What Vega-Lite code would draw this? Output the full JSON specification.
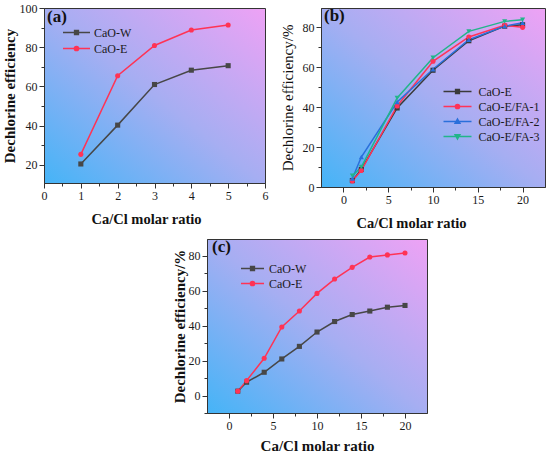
{
  "$schema": "https://vega.github.io/schema/vega-lite/v6.json",
  "padding": {"left": 1, "top": 1, "right": 0, "bottom": 0},
  "spacing": 7,
  "resolve": {"scale": {"color": "independent", "shape": "independent"}, "legend": {"color": "independent", "shape": "independent"}},
  "datasets": {
    "a": [
      {"ratio": 1, "eff": 20.5, "series": "CaO-W"},
      {"ratio": 2, "eff": 40.3, "series": "CaO-W"},
      {"ratio": 3, "eff": 61.0, "series": "CaO-W"},
      {"ratio": 4, "eff": 68.3, "series": "CaO-W"},
      {"ratio": 5, "eff": 70.6, "series": "CaO-W"},
      {"ratio": 1, "eff": 25.4, "series": "CaO-E"},
      {"ratio": 2, "eff": 65.5, "series": "CaO-E"},
      {"ratio": 3, "eff": 80.9, "series": "CaO-E"},
      {"ratio": 4, "eff": 88.8, "series": "CaO-E"},
      {"ratio": 5, "eff": 91.3, "series": "CaO-E"}
    ],
    "b": [
      {"ratio": 1, "eff": 3.2, "series": "CaO-E"},
      {"ratio": 2, "eff": 8.8, "series": "CaO-E"},
      {"ratio": 6, "eff": 39.6, "series": "CaO-E"},
      {"ratio": 10, "eff": 58.5, "series": "CaO-E"},
      {"ratio": 14, "eff": 73.3, "series": "CaO-E"},
      {"ratio": 18, "eff": 80.6, "series": "CaO-E"},
      {"ratio": 20, "eff": 81.3, "series": "CaO-E"},
      {"ratio": 1, "eff": 3.0, "series": "CaO-E/FA-1"},
      {"ratio": 2, "eff": 8.3, "series": "CaO-E/FA-1"},
      {"ratio": 6, "eff": 40.6, "series": "CaO-E/FA-1"},
      {"ratio": 10, "eff": 63.0, "series": "CaO-E/FA-1"},
      {"ratio": 14, "eff": 75.2, "series": "CaO-E/FA-1"},
      {"ratio": 18, "eff": 81.0, "series": "CaO-E/FA-1"},
      {"ratio": 20, "eff": 80.0, "series": "CaO-E/FA-1"},
      {"ratio": 1, "eff": 4.3, "series": "CaO-E/FA-2"},
      {"ratio": 2, "eff": 15.0, "series": "CaO-E/FA-2"},
      {"ratio": 6, "eff": 42.6, "series": "CaO-E/FA-2"},
      {"ratio": 10, "eff": 59.0, "series": "CaO-E/FA-2"},
      {"ratio": 14, "eff": 73.8, "series": "CaO-E/FA-2"},
      {"ratio": 18, "eff": 80.6, "series": "CaO-E/FA-2"},
      {"ratio": 20, "eff": 82.3, "series": "CaO-E/FA-2"},
      {"ratio": 1, "eff": 5.6, "series": "CaO-E/FA-3"},
      {"ratio": 2, "eff": 10.0, "series": "CaO-E/FA-3"},
      {"ratio": 6, "eff": 44.6, "series": "CaO-E/FA-3"},
      {"ratio": 10, "eff": 64.8, "series": "CaO-E/FA-3"},
      {"ratio": 14, "eff": 78.0, "series": "CaO-E/FA-3"},
      {"ratio": 18, "eff": 83.0, "series": "CaO-E/FA-3"},
      {"ratio": 20, "eff": 83.8, "series": "CaO-E/FA-3"}
    ],
    "c": [
      {"ratio": 1, "eff": 2.5, "series": "CaO-W"},
      {"ratio": 2, "eff": 7.6, "series": "CaO-W"},
      {"ratio": 4, "eff": 13.3, "series": "CaO-W"},
      {"ratio": 6, "eff": 20.9, "series": "CaO-W"},
      {"ratio": 8, "eff": 28.1, "series": "CaO-W"},
      {"ratio": 10, "eff": 36.3, "series": "CaO-W"},
      {"ratio": 12, "eff": 42.3, "series": "CaO-W"},
      {"ratio": 14, "eff": 46.3, "series": "CaO-W"},
      {"ratio": 16, "eff": 48.3, "series": "CaO-W"},
      {"ratio": 18, "eff": 50.5, "series": "CaO-W"},
      {"ratio": 20, "eff": 51.5, "series": "CaO-W"},
      {"ratio": 1, "eff": 2.5, "series": "CaO-E"},
      {"ratio": 2, "eff": 8.5, "series": "CaO-E"},
      {"ratio": 4, "eff": 21.3, "series": "CaO-E"},
      {"ratio": 6, "eff": 39.2, "series": "CaO-E"},
      {"ratio": 8, "eff": 48.3, "series": "CaO-E"},
      {"ratio": 10, "eff": 58.4, "series": "CaO-E"},
      {"ratio": 12, "eff": 66.6, "series": "CaO-E"},
      {"ratio": 14, "eff": 73.3, "series": "CaO-E"},
      {"ratio": 16, "eff": 79.2, "series": "CaO-E"},
      {"ratio": 18, "eff": 80.4, "series": "CaO-E"},
      {"ratio": 20, "eff": 81.5, "series": "CaO-E"}
    ]
  },
  "vconcat": [
    {
      "bounds": "flush",
      "spacing": 56,
      "resolve": {"scale": {"color": "independent", "shape": "independent"}, "legend": {"color": "independent", "shape": "independent"}},
      "hconcat": [
        {
          "width": 221,
          "height": 175,
          "data": {"name": "a"},
          "title": {"text": "(a)", "anchor": "start", "frame": "group", "offset": -24, "dx": 3, "fontSize": 17, "fontWeight": "bold", "color": "#111"},
          "layer": [
            {
              "mark": {"type": "line", "strokeWidth": 1.5},
              "encoding": {
                "x": {"field": "ratio", "type": "quantitative", "scale": {"domain": [0, 6], "nice": false, "zero": false},
                  "axis": {"values": [0, 1, 2, 3, 4, 5, 6], "title": "Ca/Cl molar ratio", "titlePadding": 11, "titleX": 102, "titleFontSize": 14.5}},
                "y": {"field": "eff", "type": "quantitative", "scale": {"domain": [10.8, 100], "nice": false, "zero": false},
                  "axis": {"values": [20, 40, 60, 80, 100], "title": "Dechlorine efficiency", "titlePadding": 2}},
                "color": {"field": "series", "type": "nominal", "scale": {"domain": ["CaO-W", "CaO-E"], "range": ["#474747", "#ff3355"]},
                  "legend": {"orient": "none", "legendX": 26.5, "legendY": 18.5, "title": null, "padding": 0, "rowPadding": 4, "symbolSize": 100, "labelOffset": 11.5, "symbolStrokeWidth": 1.5,
                    "encode": {"symbols": {"update": {
                      "shape": {"signal": "datum.value === 'CaO-W' ? 'M-2.7,0H2.7M-0.38,-0.38H0.38V0.38H-0.38Z' : 'M-2.7,0H2.7M-0.42,0A0.42,0.42 0 1,0 0.42,0A0.42,0.42 0 1,0 -0.42,0Z'"},
                      "fill": {"signal": "datum.value === 'CaO-W' ? '#474747' : '#ff3355'"},
                      "stroke": {"signal": "datum.value === 'CaO-W' ? '#474747' : '#ff3355'"}
                    }}}}}
              }
            },
            {
              "mark": {"type": "point", "filled": true, "size": 26, "opacity": 1},
              "encoding": {
                "x": {"field": "ratio", "type": "quantitative",
                  "axis": {"values": [0.5, 1.5, 2.5, 3.5, 4.5, 5.5], "labels": false, "domain": false, "tickSize": 3, "title": null, "orient": "bottom"}},
                "y": {"field": "eff", "type": "quantitative",
                  "axis": {"values": [30, 50, 70, 90], "labels": false, "domain": false, "tickSize": 3, "title": null, "orient": "left"}},
                "color": {"field": "series", "type": "nominal"},
                "shape": {"field": "series", "type": "nominal", "scale": {"domain": ["CaO-E", "CaO-W"], "range": ["circle", "square"]}, "legend": null}
              }
            }
          ],
          "resolve": {"axis": {"x": "independent", "y": "independent"}}
        },
        {
          "width": 224,
          "height": 179,
          "data": {"name": "b"},
          "title": {"text": "(b)", "anchor": "start", "frame": "group", "offset": -17, "dx": 3, "fontSize": 17, "fontWeight": "bold", "color": "#111"},
          "layer": [
            {
              "mark": {"type": "line", "strokeWidth": 1.5},
              "encoding": {
                "x": {"field": "ratio", "type": "quantitative", "scale": {"domain": [-2.5, 22.5], "nice": false, "zero": false},
                  "axis": {"values": [0, 5, 10, 15, 20], "title": "Ca/Cl molar ratio", "titlePadding": 11, "titleX": 90, "titleFontSize": 14.5}},
                "y": {"field": "eff", "type": "quantitative", "scale": {"domain": [0, 89.7], "nice": false, "zero": false},
                  "axis": {"values": [0, 20, 40, 60, 80], "title": "Dechlorine efficiency/%", "titleFontWeight": "normal", "titlePadding": 7}},
                "color": {"field": "series", "type": "nominal", "scale": {"domain": ["CaO-E", "CaO-E/FA-1", "CaO-E/FA-2", "CaO-E/FA-3"], "range": ["#3a3a3a", "#ff3358", "#2a6fdb", "#22b58a"]},
                  "legend": {"orient": "none", "legendX": 130.5, "legendY": 77.5, "title": null, "padding": 0, "rowPadding": 3, "symbolSize": 100, "labelOffset": 15, "symbolStrokeWidth": 1.5,
                    "encode": {"symbols": {"update": {
                      "shape": {"signal": "datum.value === 'CaO-E' ? 'M-2.8,0H2.8M-0.38,-0.38H0.38V0.38H-0.38Z' : datum.value === 'CaO-E/FA-1' ? 'M-2.8,0H2.8M-0.42,0A0.42,0.42 0 1,0 0.42,0A0.42,0.42 0 1,0 -0.42,0Z' : datum.value === 'CaO-E/FA-2' ? 'M-2.8,0H2.8M0,-0.48L0.48,0.36H-0.48Z' : 'M-2.8,0H2.8M0,0.48L0.48,-0.36H-0.48Z'"},
                      "fill": {"signal": "datum.value === 'CaO-E' ? '#3a3a3a' : datum.value === 'CaO-E/FA-1' ? '#ff3358' : datum.value === 'CaO-E/FA-2' ? '#2a6fdb' : '#22b58a'"},
                      "stroke": {"signal": "datum.value === 'CaO-E' ? '#3a3a3a' : datum.value === 'CaO-E/FA-1' ? '#ff3358' : datum.value === 'CaO-E/FA-2' ? '#2a6fdb' : '#22b58a'"}
                    }}}}}
              }
            },
            {
              "mark": {"type": "point", "filled": true, "size": 26, "opacity": 1},
              "encoding": {
                "x": {"field": "ratio", "type": "quantitative",
                  "axis": {"values": [2.5, 7.5, 12.5, 17.5], "labels": false, "domain": false, "tickSize": 3, "title": null, "orient": "bottom"}},
                "y": {"field": "eff", "type": "quantitative",
                  "axis": {"values": [10, 30, 50, 70], "labels": false, "domain": false, "tickSize": 3, "title": null, "orient": "left"}},
                "color": {"field": "series", "type": "nominal"},
                "shape": {"field": "series", "type": "nominal", "scale": {"domain": ["CaO-E/FA-3", "CaO-E/FA-2", "CaO-E/FA-1", "CaO-E"], "range": ["triangle-down", "triangle-up", "circle", "square"]}, "legend": null}
              }
            }
          ],
          "resolve": {"axis": {"x": "independent", "y": "independent"}}
        }
      ]
    },
    {
      "bounds": "flush",
      "spacing": 0,
      "resolve": {"scale": {"color": "independent", "shape": "independent"}, "legend": {"color": "independent", "shape": "independent"}},
      "hconcat": [
        {
          "width": 163,
          "height": 174,
          "data": {"values": []},
          "mark": "point",
          "encoding": {},
          "view": {"fill": null, "stroke": null}
        },
        {
          "width": 220,
          "height": 174,
          "data": {"name": "c"},
          "title": {"text": "(c)", "anchor": "start", "frame": "group", "offset": -17, "dx": 5, "fontSize": 17, "fontWeight": "bold", "color": "#111"},
          "layer": [
            {
              "mark": {"type": "line", "strokeWidth": 1.5},
              "encoding": {
                "x": {"field": "ratio", "type": "quantitative", "scale": {"domain": [-2.5, 22.5], "nice": false, "zero": false},
                  "axis": {"values": [0, 5, 10, 15, 20], "title": "Ca/Cl molar ratio", "titlePadding": 7}},
                "y": {"field": "eff", "type": "quantitative", "scale": {"domain": [-10, 89.5], "nice": false, "zero": false},
                  "axis": {"values": [0, 20, 40, 60, 80], "title": "Dechlorine efficiency/%", "titlePadding": 1}},
                "color": {"field": "series", "type": "nominal", "scale": {"domain": ["CaO-W", "CaO-E"], "range": ["#474747", "#ff3355"]},
                  "legend": {"orient": "none", "legendX": 39.5, "legendY": 23.5, "title": null, "padding": 0, "rowPadding": 3, "symbolSize": 100, "labelOffset": 10.5, "symbolStrokeWidth": 1.5,
                    "encode": {"symbols": {"update": {
                      "shape": {"signal": "datum.value === 'CaO-W' ? 'M-2.3,0H2.3M-0.38,-0.38H0.38V0.38H-0.38Z' : 'M-2.3,0H2.3M-0.42,0A0.42,0.42 0 1,0 0.42,0A0.42,0.42 0 1,0 -0.42,0Z'"},
                      "fill": {"signal": "datum.value === 'CaO-W' ? '#474747' : '#ff3355'"},
                      "stroke": {"signal": "datum.value === 'CaO-W' ? '#474747' : '#ff3355'"}
                    }}}}}
              }
            },
            {
              "mark": {"type": "point", "filled": true, "size": 26, "opacity": 1},
              "encoding": {
                "x": {"field": "ratio", "type": "quantitative",
                  "axis": {"values": [2.5, 7.5, 12.5, 17.5], "labels": false, "domain": false, "tickSize": 3, "title": null, "orient": "bottom"}},
                "y": {"field": "eff", "type": "quantitative",
                  "axis": {"values": [-10, 10, 30, 50, 70], "labels": false, "domain": false, "tickSize": 3, "title": null, "orient": "left"}},
                "color": {"field": "series", "type": "nominal"},
                "shape": {"field": "series", "type": "nominal", "scale": {"domain": ["CaO-E", "CaO-W"], "range": ["circle", "square"]}, "legend": null}
              }
            }
          ],
          "resolve": {"axis": {"x": "independent", "y": "independent"}}
        }
      ]
    }
  ],
  "config": {
    "font": "Liberation Serif",
    "background": "white",
    "view": {
      "stroke": "#333",
      "strokeWidth": 1,
      "fill": {"gradient": "linear", "x1": 0, "y1": 1, "x2": 1, "y2": 0,
        "stops": [{"offset": 0, "color": "#45b4f7"}, {"offset": 0.5, "color": "#a6aef2"}, {"offset": 1, "color": "#eea2f5"}]}
    },
    "axis": {
      "grid": false,
      "labelFont": "Liberation Serif",
      "labelFontSize": 12,
      "labelColor": "#1a1a1a",
      "titleFont": "Liberation Serif",
      "titleFontSize": 15,
      "titleFontWeight": "bold",
      "titleColor": "#111",
      "tickColor": "#333",
      "domainColor": "#333",
      "tickSize": 5,
      "labelPadding": 2,
      "labelFlush": false,
      "labelOverlap": false
    },
    "legend": {"labelFont": "Liberation Serif", "labelFontSize": 12, "labelColor": "#1a1a1a"},
    "title": {"font": "Liberation Serif"}
  }
}
